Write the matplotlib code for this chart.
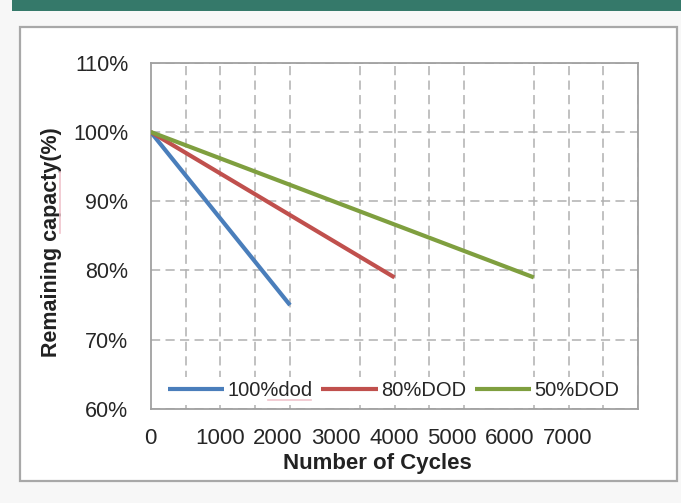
import numpy as np
import matplotlib.pyplot as plt
from matplotlib import transforms
from matplotlib.patches import Rectangle
from matplotlib.lines import Line2D

plt.rcParams['font.family'] = ['Liberation Sans', 'DejaVu Sans']

# cycle life curves for each depth of discharge
series_names = ['100%dod', '80%DOD', '50%DOD']
series_colors = ['#4a7ebb', '#c0504d', '#7f9f3f']
cycles_100 = [0, 2400]
capacity_100 = [100, 75]
cycles_80 = [0, 4200]
capacity_80 = [100, 79]
cycles_50 = [0, 6600]
capacity_50 = [100, 79]

x_ticks = [0, 1000, 2000, 3000, 4000, 5000, 6000, 7000]
y_ticks = [60, 70, 80, 90, 100, 110]
y_tick_labels = ['60%', '70%', '80%', '90%', '100%', '110%']

W, H = 681, 503
fig = plt.figure(figsize=(W / 100, H / 100), dpi=100)
fig.patch.set_facecolor('#f7f7f7')

# green header strip and framed white panel
fig.patches.append(Rectangle((12 / W, 1 - 11 / H), 1, 11 / H,
                             transform=fig.transFigure, facecolor='#35796a',
                             edgecolor='none', zorder=-2))
fig.patches.append(Rectangle((20 / W, 1 - 481 / H), 657 / W, 454 / H,
                             transform=fig.transFigure, facecolor='white',
                             edgecolor='#a8a8a8', lw=1.6, zorder=-1))

ax = fig.add_axes([150.7 / W, 1 - 409 / H, 487.6 / W, 346.3 / H])
ax.set_facecolor('white')

lines = [(cycles_100, capacity_100), (cycles_80, capacity_80),
         (cycles_50, capacity_50)]
for (x, y), name, col in zip(lines, series_names, series_colors):
    ax.plot(x, y, color=col, lw=3, label=name, solid_capstyle='butt', zorder=3)

ax.set_xlim(0, 8400)
ax.set_ylim(60, 110)
ax.set_xticks(x_ticks)
ax.set_xticks(np.arange(0, 8401, 600), minor=True)
ax.set_yticks(y_ticks)
ax.set_yticklabels(y_tick_labels)

# dashed grid: vertical on the minor ticks, horizontal on the major ones
grid_style = dict(color='#b0b0b0', lw=1.1, dashes=(6, 3.5))
ax.grid(which='minor', axis='x', **grid_style)
ax.grid(which='major', axis='y', **grid_style)
ax.set_axisbelow(True)

ax.tick_params(which='both', length=0)
ax.tick_params(axis='x', labelsize=16, pad=13.5, labelcolor='#262626')
ax.tick_params(axis='y', labelsize=15.5, pad=16, labelcolor='#262626')
for s in ax.spines.values():
    s.set_color('#a0a0a0')
    s.set_linewidth(1.3)

# nudge the thousands labels to the right
shift = transforms.ScaledTranslation(0.11, 0, fig.dpi_scale_trans)
for lab in ax.get_xticklabels()[1:]:
    lab.set_transform(lab.get_transform() + shift)

ax.set_ylabel('Remaining capacty(%)', fontsize=15.5, fontweight='bold',
              color='#222222')
ax.yaxis.set_label_coords(-0.182, 0.481)
ax.set_xlabel('Number of Cycles', fontsize=16, fontweight='bold',
              color='#222222', va='top')
ax.xaxis.set_label_coords(0.465, -0.128)

leg = ax.legend(loc='center', bbox_to_anchor=(0.498, 0.052), ncol=3,
                fontsize=14.5, frameon=True, fancybox=False, framealpha=1,
                edgecolor='none', facecolor='white', handlelength=2.8,
                handletextpad=0.15, columnspacing=0.45, borderpad=0.2)
for t in leg.get_texts():
    t.set_color('#262626')

# faint spell-check underlines under "capacty" and "dod"
squiggle = dict(transform=fig.transFigure, color='#f0c4cc', lw=1.2)
fig.lines.append(Line2D([60 / W, 60 / W], [1 - 172 / H, 1 - 233 / H], **squiggle))
fig.lines.append(Line2D([268 / W, 311 / W], [1 - 400 / H, 1 - 400 / H], **squiggle))

fig.savefig('out.png', dpi=100, facecolor=fig.get_facecolor())
